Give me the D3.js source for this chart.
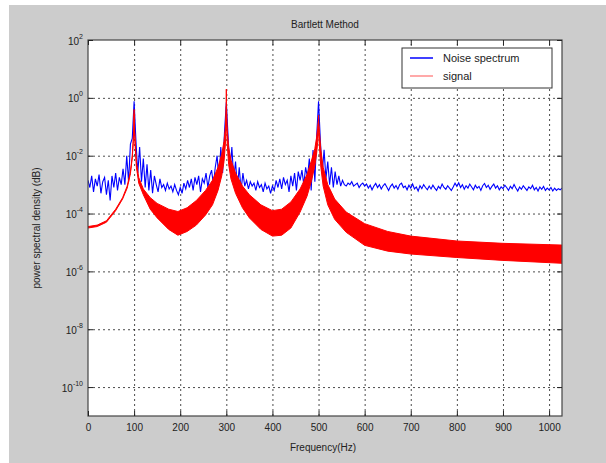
<!DOCTYPE html>
<html>
<head>
<meta charset="utf-8">
<script src="https://cdn.jsdelivr.net/npm/d3@7"></script>
<style>
  body { margin: 0; background: #fff; }
  svg text { font-family: "Liberation Sans", Arial, sans-serif; fill: #222; }
</style>
</head>
<body>
<svg id="chart" width="606" height="463"></svg>
<script>
// Frequency ticks (Hz) and log ticks (power of ten)
var xTicks = [0, 100, 200, 300, 400, 500, 600, 700, 800, 900, 1000];
var yTickExp = [2, 0, -2, -4, -6, -8, -10];

// Noise spectrum, log10 of PSD, sampled every 4 Hz from 0 to 1028 Hz
var noiseStep = 4;
var noiseLog = [
	-2.85,-3.10,-2.70,-3.25,-2.80,-3.05,-2.65,-3.30,-2.90,-2.75,
	-3.35,-2.85,-3.55,-2.70,-3.10,-2.60,-3.20,-2.75,-3.00,-2.45,
	-3.00,-2.00,-2.90,-1.60,-1.40,-0.12,-1.50,-2.60,-1.70,-2.90,
	-2.10,-3.10,-2.30,-3.20,-2.50,-3.30,-2.70,-3.00,-3.25,-2.80,
	-3.10,-3.00,-3.20,-2.95,-3.15,-3.05,-3.25,-3.00,-3.20,-3.35,
	-3.10,-3.30,-2.95,-3.15,-2.85,-3.10,-2.80,-3.20,-2.75,-3.00,
	-2.70,-3.25,-2.80,-2.95,-2.60,-3.10,-2.70,-2.50,-3.00,-2.40,
	-2.00,-2.90,-1.70,-2.60,-1.20,-0.15,-1.40,-2.50,-1.70,-2.80,
	-2.20,-3.10,-2.40,-3.20,-2.60,-3.05,-2.85,-3.15,-2.90,-3.05,
	-2.95,-3.20,-2.90,-3.10,-3.00,-3.25,-2.95,-3.15,-3.05,-3.30,
	-3.05,-3.20,-2.85,-3.10,-2.80,-3.15,-2.75,-3.00,-2.85,-3.25,
	-2.70,-3.05,-2.60,-3.20,-2.55,-2.85,-2.50,-3.00,-2.40,-2.75,
	-2.10,-3.20,-1.80,-2.90,-1.30,-0.12,-1.50,-2.60,-1.80,-2.80,
	-2.20,-3.00,-2.40,-3.10,-2.55,-3.00,-2.70,-3.05,-2.85,-3.00,
	-3.05,-2.95,-3.00,-2.90,-3.05,-3.00,-2.95,-3.10,-3.00,-2.95,
	-3.05,-2.98,-3.12,-3.02,-3.18,-3.05,-2.96,-3.10,-3.00,-3.15,
	-3.04,-2.97,-3.08,-3.20,-3.06,-2.98,-3.12,-3.03,-3.16,-3.00,
	-2.95,-3.10,-3.05,-3.18,-3.02,-3.12,-2.98,-3.15,-3.08,-3.22,
	-3.04,-3.14,-3.00,-3.10,-3.18,-3.05,-3.15,-3.02,-3.12,-3.20,
	-3.06,-3.14,-2.98,-3.10,-3.16,-3.04,-3.12,-3.20,-3.08,-2.95,
	-3.06,-2.94,-3.10,-3.00,-3.16,-3.04,-3.12,-2.98,-3.08,-3.18,
	-3.02,-3.12,-3.06,-3.20,-3.04,-2.96,-3.10,-3.02,-3.16,-3.06,
	-2.98,-3.12,-3.04,-3.18,-3.08,-3.14,-3.02,-3.10,-3.20,-3.06,
	-3.14,-3.00,-3.12,-3.22,-3.08,-3.16,-3.04,-3.12,-3.20,-3.08,
	-3.14,-3.02,-3.18,-3.10,-3.22,-3.08,-3.16,-3.06,-3.20,-3.12,
	-3.18,-3.10,-3.22,-3.12,-3.20,-3.14,-3.18,-3.12
];

// Signal spectrum: fast ripple drawn as a band, log10 of its upper and lower envelope
var signalFreq = [0, 20, 40, 60, 75, 85, 92, 96, 98, 99.5, 100, 100.5, 102, 105, 110, 120, 135, 150, 175, 195,
	215, 235, 255, 270, 282, 290, 295, 298, 299.5, 300, 300.5, 302, 305, 310, 320, 335, 350, 375, 400, 420,
	440, 460, 475, 485, 492, 496, 498, 499.5, 500, 500.5, 502, 505, 510, 520, 535, 560, 600, 650, 700, 800, 900, 1028];
var signalUpper = [-4.45, -4.40, -4.25, -3.85, -3.45, -3.05, -2.55, -2.00, -1.50, -0.90, -0.40, -0.90, -1.40, -2.20, -2.75, -3.15, -3.45, -3.65, -3.85, -3.93,
	-3.80, -3.55, -3.20, -2.85, -2.40, -1.95, -1.50, -1.00, -0.40, 0.30, -0.40, -1.10, -1.70, -2.15, -2.60, -3.05, -3.35, -3.70, -3.90, -3.85,
	-3.60, -3.15, -2.65, -2.15, -1.75, -1.35, -1.05, -0.80, -0.60, -0.85, -1.20, -1.80, -2.40, -3.00, -3.50, -3.95, -4.35, -4.62, -4.78, -4.95, -5.03, -5.09];
var signalLower = [-4.50, -4.45, -4.30, -3.90, -3.50, -3.12, -2.62, -2.08, -1.58, -1.00, -0.55, -1.00, -1.60, -2.40, -2.95, -3.35, -3.85, -4.15, -4.55, -4.75,
	-4.62, -4.40, -4.05, -3.70, -3.20, -2.70, -2.20, -1.60, -0.90, -0.30, -0.90, -1.60, -2.30, -2.80, -3.30, -3.80, -4.15, -4.55, -4.78, -4.75,
	-4.50, -3.95, -3.40, -2.85, -2.35, -1.90, -1.55, -1.20, -0.90, -1.25, -1.70, -2.40, -3.05, -3.70, -4.20, -4.65, -5.10, -5.30, -5.40, -5.52, -5.62, -5.72];

var seriesNames = ["Noise spectrum", "signal"];

// Layout
var box = {left: 88, top: 40, right: 562, bottom: 416};
var svg = d3.select("#chart");

// Figure background
svg.append("rect").attr("x", 9).attr("y", 5).attr("width", 597).attr("height", 458).attr("fill", "#cccccc");
svg.append("rect").attr("x", box.left).attr("y", box.top)
	.attr("width", box.right - box.left).attr("height", box.bottom - box.top).attr("fill", "#fff");

// Scales
var x = d3.scaleLinear().domain([0, 1028]).range([box.left, box.right]);
var y = d3.scaleLog().domain([1e-11, 1e2]).range([box.bottom, box.top]);

// Grid lines
var gridStyle = (g) => {
	g.select(".domain").remove();
	g.selectAll(".tick line").attr("stroke", "#111").attr("stroke-dasharray", "2,3").attr("opacity", 0.75);
	g.selectAll(".tick text").remove();
};
svg.append("g").attr("transform", "translate(0," + box.bottom + ")")
	.call(d3.axisBottom(x).tickValues(xTicks.slice(1)).tickSize(-(box.bottom - box.top)))
	.call(gridStyle);
svg.append("g").attr("transform", "translate(" + box.left + ",0)")
	.call(d3.axisLeft(y).tickValues(yTickExp.slice(1).map((e) => Math.pow(10, e))).tickSize(-(box.right - box.left)))
	.call(gridStyle);

// Clip for plot area
svg.append("clipPath").attr("id", "plotClip").append("rect")
	.attr("x", box.left).attr("y", box.top).attr("width", box.right - box.left).attr("height", box.bottom - box.top);
var plot = svg.append("g").attr("clip-path", "url(#plotClip)");

// Noise line
var noisePts = noiseLog.map((v, i) => ({f: i * noiseStep, p: Math.pow(10, v)}));
plot.append("path")
	.datum(noisePts)
	.attr("fill", "none")
	.attr("stroke", "#0000ff")
	.attr("stroke-width", 1.1)
	.attr("d", d3.line().x((d) => x(d.f)).y((d) => y(d.p)));

// Signal band
var signalPts = signalFreq.map((f, i) => ({f: f, hi: Math.pow(10, signalUpper[i]), lo: Math.pow(10, signalLower[i])}));
plot.append("path")
	.datum(signalPts)
	.attr("fill", "#ff0000")
	.attr("stroke", "#ff0000")
	.attr("stroke-width", 1)
	.attr("d", d3.area().x((d) => x(d.f)).y0((d) => y(d.lo)).y1((d) => y(d.hi)));

// Axes box
svg.append("rect").attr("x", box.left).attr("y", box.top)
	.attr("width", box.right - box.left).attr("height", box.bottom - box.top)
	.attr("fill", "none").attr("stroke", "#444").attr("stroke-width", 1.2);

// X axis with inward ticks
var xAxis = svg.append("g").attr("transform", "translate(0," + box.bottom + ")")
	.call(d3.axisBottom(x).tickValues(xTicks).tickSize(-5).tickPadding(8).tickFormat(d3.format("d")));
xAxis.select(".domain").remove();
xAxis.selectAll(".tick line").attr("stroke", "#222");
xAxis.selectAll(".tick text").style("font-size", "10px").attr("fill", "#222");

// Top inward ticks
var xTop = svg.append("g").attr("transform", "translate(0," + box.top + ")")
	.call(d3.axisTop(x).tickValues(xTicks).tickSize(-5).tickFormat(""));
xTop.select(".domain").remove();
xTop.selectAll(".tick line").attr("stroke", "#222");

// Y axis with powers of ten
var yAxis = svg.append("g").attr("transform", "translate(" + box.left + ",0)")
	.call(d3.axisLeft(y).tickValues(yTickExp.map((e) => Math.pow(10, e))).tickSize(-5).tickFormat(""));
yAxis.select(".domain").remove();
yAxis.selectAll(".tick line").attr("stroke", "#222");
yAxis.selectAll(".tick").each(function(d, i) {
	let t = d3.select(this).append("text")
		.attr("x", -5).attr("y", 4)
		.attr("text-anchor", "end")
		.attr("fill", "#222")
		.style("font-size", "10px");
	t.append("tspan").text("10");
	t.append("tspan").attr("dy", "-6").style("font-size", "7px").text(yTickExp[i]);
});

var yRight = svg.append("g").attr("transform", "translate(" + box.right + ",0)")
	.call(d3.axisRight(y).tickValues(yTickExp.map((e) => Math.pow(10, e))).tickSize(-5).tickFormat(""));
yRight.select(".domain").remove();
yRight.selectAll(".tick line").attr("stroke", "#222");

// Titles
svg.append("text").attr("x", 325).attr("y", 28).attr("text-anchor", "middle")
	.style("font-size", "10px").text("Bartlett Method");
svg.append("text").attr("x", 323).attr("y", 451).attr("text-anchor", "middle")
	.style("font-size", "10px").text("Frequency(Hz)");
svg.append("text").attr("transform", "translate(40,228) rotate(-90)").attr("text-anchor", "middle")
	.style("font-size", "10px").text("power spectral density (dB)");

// Legend
var legend = svg.append("g").attr("transform", "translate(402,48)");
legend.append("rect").attr("width", 150).attr("height", 40)
	.attr("fill", "#fff").attr("stroke", "#333").attr("stroke-width", 1);
var legColors = ["#0000ff", "#ff8c8c"];
seriesNames.forEach((name, i) => {
	legend.append("line").attr("x1", 8).attr("x2", 31).attr("y1", 10 + i * 18).attr("y2", 10 + i * 18)
		.attr("stroke", legColors[i]).attr("stroke-width", 1.5);
	legend.append("text").attr("x", 41).attr("y", 14 + i * 18)
		.style("font-size", "11px").text(name);
});
</script>
</body>
</html>
